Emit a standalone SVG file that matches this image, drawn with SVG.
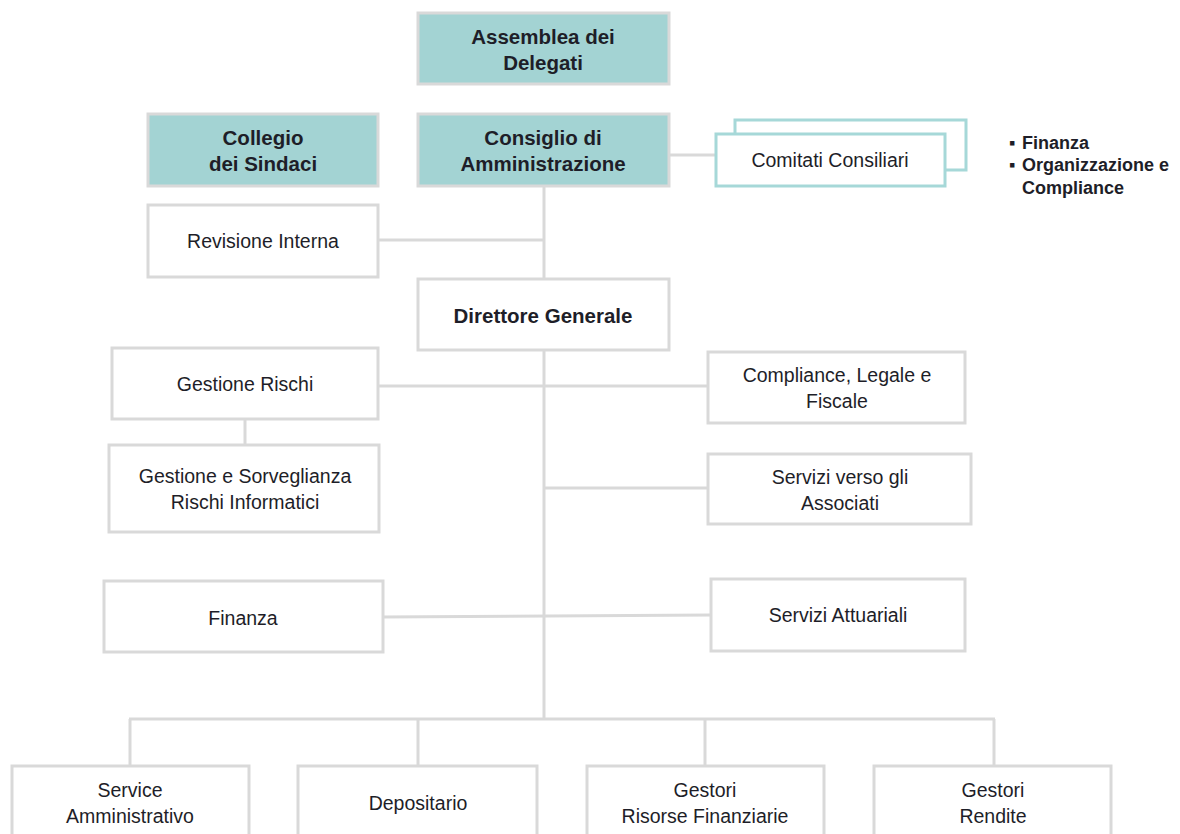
<svg xmlns="http://www.w3.org/2000/svg" width="1180" height="834" viewBox="0 0 1180 834">
<style>
.box{fill:#fff;stroke:#d9d9d9;stroke-width:3}
.teal{fill:#a3d3d3;stroke:#d9d9d9;stroke-width:3}
.com{fill:#fff;stroke:#a6d8d8;stroke-width:3}
.ln{stroke:#d9d9d9;stroke-width:3;fill:none}
text{font-family:"Liberation Sans",Arial,sans-serif;font-size:19.5px;fill:#1e1e28;text-anchor:middle}
.b{font-weight:bold;font-size:20.5px}
.bl{font-weight:bold;font-size:18px;text-anchor:start}
</style>
<rect width="1180" height="834" fill="#fff"/>
<g id="connectors">
<line class="ln" x1="669" y1="155" x2="716" y2="155"/>
<line class="ln" x1="544" y1="186" x2="544" y2="279"/>
<line class="ln" x1="376" y1="240" x2="544" y2="240"/>
<line class="ln" x1="544" y1="350" x2="544" y2="720"/>
<line class="ln" x1="378" y1="386" x2="708" y2="386"/>
<line class="ln" x1="245" y1="419" x2="245" y2="445"/>
<line class="ln" x1="544" y1="488" x2="708" y2="488"/>
<line class="ln" x1="383" y1="617" x2="711" y2="615"/>
<line class="ln" x1="129" y1="719" x2="995" y2="719"/>
<line class="ln" x1="130" y1="719" x2="130" y2="766"/>
<line class="ln" x1="418" y1="719" x2="418" y2="766"/>
<line class="ln" x1="705" y1="719" x2="705" y2="766"/>
<line class="ln" x1="994" y1="719" x2="994" y2="766"/>
</g>
<g id="assemblea"><rect class="teal" x="418" y="13" width="251" height="71"/><text class="b" x="543" y="44">Assemblea dei</text><text class="b" x="543" y="70">Delegati</text></g>
<g id="collegio"><rect class="teal" x="148" y="114" width="230" height="72"/><text class="b" x="263" y="145">Collegio</text><text class="b" x="263" y="171">dei Sindaci</text></g>
<g id="consiglio"><rect class="teal" x="418" y="114" width="251" height="72"/><text class="b" x="543" y="145">Consiglio di</text><text class="b" x="543" y="171">Amministrazione</text></g>
<g id="comitati"><path class="com" d="M735 134 V120 H966 V170 H945"/><rect class="com" x="716" y="134" width="229" height="52"/><text x="830" y="167">Comitati  Consiliari</text></g>
<g id="elenco-comitati"><text class="bl" x="1009" y="149">▪</text><text class="bl" x="1022" y="149">Finanza</text><text class="bl" x="1009" y="171">▪</text><text class="bl" x="1022" y="171">Organizzazione e</text><text class="bl" x="1022" y="194">Compliance</text></g>
<g id="revisione"><rect class="box" x="148" y="205" width="230" height="72"/><text x="263" y="248">Revisione Interna</text></g>
<g id="direttore"><rect class="box" x="418" y="279" width="251" height="71"/><text class="b" x="543" y="323">Direttore Generale</text></g>
<g id="gestione-rischi"><rect class="box" x="112" y="348" width="266" height="71"/><text x="245" y="391">Gestione  Rischi</text></g>
<g id="compliance"><rect class="box" x="708" y="352" width="257" height="71"/><text x="837" y="382">Compliance,  Legale e</text><text x="837" y="408">Fiscale</text></g>
<g id="sorveglianza"><rect class="box" x="109" y="445" width="270" height="87"/><text x="245" y="483">Gestione  e Sorveglianza</text><text x="245" y="509">Rischi Informatici</text></g>
<g id="servizi-associati"><rect class="box" x="708" y="454" width="263" height="70"/><text x="840" y="484">Servizi verso gli</text><text x="840" y="510">Associati</text></g>
<g id="finanza"><rect class="box" x="104" y="581" width="279" height="71"/><text x="243" y="625">Finanza</text></g>
<g id="attuariali"><rect class="box" x="711" y="579" width="254" height="72"/><text x="838" y="622">Servizi  Attuariali</text></g>
<g id="service"><rect class="box" x="12" y="766" width="237" height="80"/><text x="130" y="797">Service</text><text x="130" y="823">Amministrativo</text></g>
<g id="depositario"><rect class="box" x="298" y="766" width="239" height="80"/><text x="418" y="810">Depositario</text></g>
<g id="gestori-risorse"><rect class="box" x="587" y="766" width="237" height="80"/><text x="705" y="797">Gestori</text><text x="705" y="823">Risorse  Finanziarie</text></g>
<g id="gestori-rendite"><rect class="box" x="874" y="766" width="237" height="80"/><text x="993" y="797">Gestori</text><text x="993" y="823">Rendite</text></g>
</svg>
